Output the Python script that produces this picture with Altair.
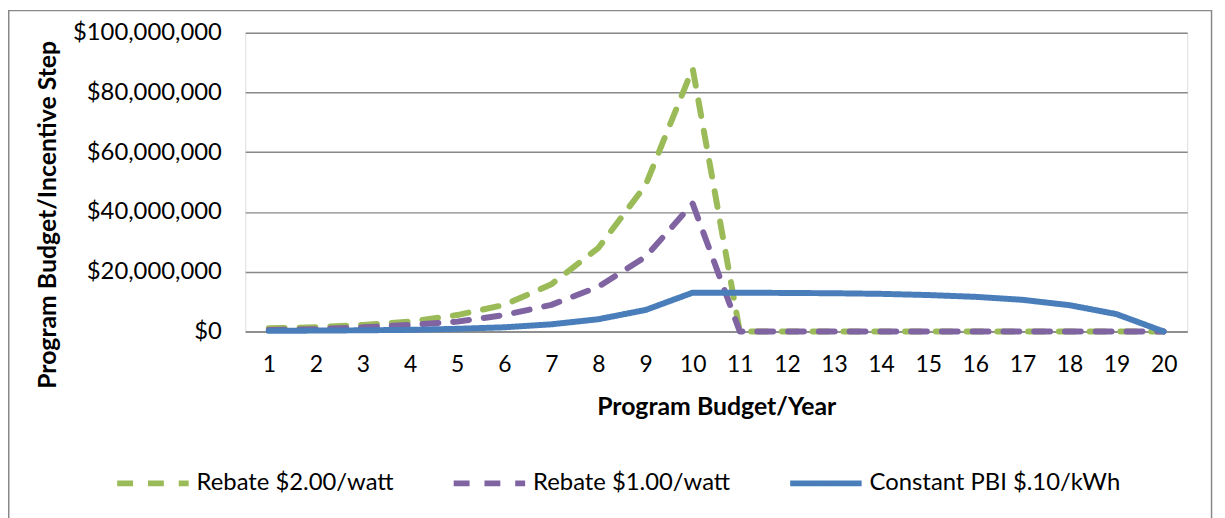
import altair as alt
import pandas as pd

years = list(range(1, 21))
series_names = ["Rebate $2.00/watt", "Rebate $1.00/watt", "Constant PBI $.10/kWh"]
series_colors = ["#9BBB59", "#8064A2", "#4A7EBB"]

rebate_2 = [1.1e6, 1.4e6, 2.2e6, 3.3e6, 5.5e6, 8.9e6, 15.8e6, 28.0e6, 49.0e6, 88.0e6,
            0, 0, 0, 0, 0, 0, 0, 0, 0, 0]
rebate_1 = [0.5e6, 0.8e6, 1.4e6, 2.2e6, 3.3e6, 5.5e6, 8.9e6, 15.0e6, 25.0e6, 42.8e6,
            0, 0, 0, 0, 0, 0, 0, 0, 0, 0]
pbi = [0.2e6, 0.3e6, 0.4e6, 0.55e6, 0.9e6, 1.4e6, 2.4e6, 4.1e6, 7.2e6, 13.0e6,
       13.0e6, 12.9e6, 12.8e6, 12.6e6, 12.2e6, 11.6e6, 10.6e6, 8.8e6, 5.8e6, 0]

rows = []
for name, vals in zip(series_names, [rebate_2, rebate_1, pbi]):
    for yr, v in zip(years, vals):
        rows.append({"year": yr, "value": v, "series": name})
df = pd.DataFrame(rows)

FONT = "Lato"

x_enc = alt.X(
    "year:O",
    scale=alt.Scale(padding=0.5),
    axis=alt.Axis(
        title="Program Budget/Year",
        labelAngle=0,
        labelFont=FONT,
        labelFontSize=23,
        labelColor="#000000",
        labelPadding=22,
        ticks=False,
        domain=True,
        domainColor="#888888",
        domainWidth=1.5,
        titleFont=FONT,
        titleFontSize=25,
        titleFontWeight="bold",
        titleColor="#000000",
        titleY=76,
        titleBaseline="middle",
    ),
)
y_enc = alt.Y(
    "value:Q",
    scale=alt.Scale(domain=[0, 100e6]),
    axis=alt.Axis(
        title="Program Budget/Incentive Step",
        values=[0, 20e6, 40e6, 60e6, 80e6, 100e6],
        format="$,.0f",
        labelFont=FONT,
        labelFontSize=24,
        labelColor="#000000",
        labelPadding=24,
        ticks=False,
        domain=False,
        grid=True,
        gridColor="#888888",
        gridWidth=1.5,
        titleFont=FONT,
        titleFontSize=25,
        titleFontWeight="bold",
        titleColor="#000000",
        titleAngle=270,
        titleX=-199,
        titleY=183,
        titleAlign="center",
        titleBaseline="middle",
    ),
)
color_enc = alt.Color(
    "series:N",
    scale=alt.Scale(domain=series_names, range=series_colors),
    legend=alt.Legend(
        title=None,
        orient="none",
        direction="horizontal",
        legendX=-132,
        legendY=415,
        symbolType="stroke",
        symbolSize=5184,
        symbolStrokeWidth=6,
        labelFont=FONT,
        labelFontSize=24,
        labelColor="#000000",
        labelOffset=5,
        labelLimit=500,
        columnPadding=48,
    ),
)
dash_enc = alt.StrokeDash(
    "series:N",
    scale=alt.Scale(domain=series_names, range=[[16, 15], [16, 15], [1, 0]]),
    legend=None,
)

base = alt.Chart(df)

layers = []
for name, w in zip(series_names, [6, 6, 6]):
    layers.append(
        base.transform_filter(alt.datum.series == name)
        .mark_line(strokeWidth=w, strokeCap="round", strokeJoin="round")
        .encode(x=x_enc, y=y_enc, color=color_enc, strokeDash=dash_enc)
    )

border = alt.Chart(pd.DataFrame({"k": [0]})).mark_rect(
    fill=None, stroke="#888888", strokeWidth=1.5, clip=False
).encode(
    x=alt.value(-238.25), x2=alt.value(973.5), y=alt.value(-22.25), y2=alt.value(495)
)

chart = alt.layer(border, *layers).properties(
    width=949,
    height=301,
    autosize=alt.AutoSizeParams(type="none"),
    padding={"left": 239, "top": 23, "right": 30, "bottom": 186},
).configure_view(stroke=None).configure(background="#ffffff")

chart.save("out.html", embed_options={"renderer": "svg", "actions": False})
